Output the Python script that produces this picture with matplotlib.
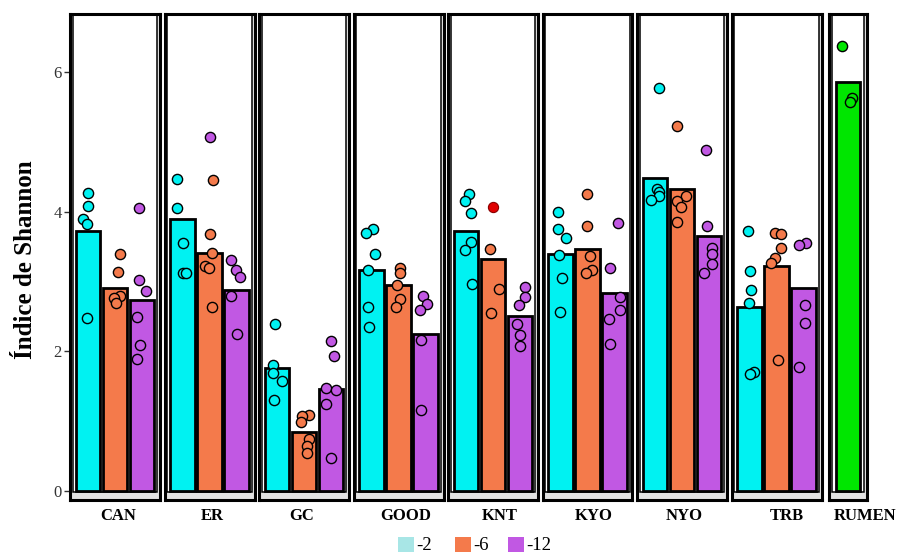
import matplotlib
matplotlib.use("Agg")
import matplotlib.pyplot as plt
from matplotlib.patches import Rectangle
import numpy as np

plt.rcParams['font.family'] = ['Liberation Serif', 'DejaVu Serif']

# ---- data -------------------------------------------------------------
sites = ["CAN", "ER", "GC", "GOOD", "KNT", "KYO", "NYO", "TRB"]
groups = ["-2", "-6", "-12"]

bar_m2 = [3.72, 3.89, 1.76, 3.16, 3.72, 3.40, 4.49, 2.63]
bar_m6 = [2.91, 3.41, 0.85, 2.95, 3.32, 3.46, 4.32, 3.22]
bar_m12 = [2.74, 2.88, 1.46, 2.25, 2.51, 2.83, 3.66, 2.91]

pts_m2 = [
    [4.27, 4.08, 3.90, 3.82, 2.48],
    [4.47, 4.05, 3.55, 3.13, 3.12],
    [2.39, 1.80, 1.69, 1.57, 1.31],
    [3.76, 3.70, 3.40, 3.17, 2.63, 2.35],
    [4.25, 4.16, 3.98, 3.57, 3.45, 2.97],
    [4.00, 3.76, 3.63, 3.38, 3.05, 2.57],
    [5.78, 4.32, 4.29, 4.22, 4.17],
    [3.73, 3.15, 2.88, 2.69, 1.71, 1.68],
]
jit_m2 = [
    [0.0, 0.0, -0.2, -0.05, -0.05],
    [-0.19, -0.21, 0.0, 0.0, 0.12],
    [-0.08, -0.13, -0.13, 0.17, -0.1],
    [0.07, -0.2, 0.14, -0.14, -0.14, -0.1],
    [0.1, -0.05, 0.2, 0.2, -0.03, 0.22],
    [-0.1, -0.1, 0.22, -0.06, 0.06, -0.03],
    [0.16, 0.08, 0.16, 0.14, -0.13],
    [-0.07, 0.0, 0.06, -0.03, 0.16, 0.03],
]

pts_m6 = [
    [3.39, 3.14, 2.80, 2.76, 2.69],
    [4.45, 3.68, 3.41, 3.22, 3.20, 2.63],
    [1.09, 1.07, 0.99, 0.75, 0.64, 0.55],
    [3.19, 3.12, 2.95, 2.75, 2.64],
    [3.46, 2.89, 2.55],
    [4.25, 3.80, 3.36, 3.16, 3.12],
    [5.23, 4.22, 4.16, 4.07, 3.86],
    [3.70, 3.68, 3.48, 3.34, 3.27, 1.88],
]
jit_m6 = [
    [0.17, 0.1, 0.17, -0.02, 0.04],
    [0.12, 0.0, 0.1, -0.15, -0.03, 0.1],
    [0.19, -0.06, -0.12, 0.19, 0.12, 0.12],
    [0.04, 0.04, -0.05, 0.04, -0.09],
    [-0.12, 0.21, -0.07],
    [0.0, 0.0, 0.09, 0.16, -0.06],
    [-0.17, 0.13, -0.17, -0.04, -0.17],
    [-0.06, 0.15, 0.15, -0.06, -0.19, 0.06],
]

pts_m12 = [
    [4.05, 3.02, 2.86, 2.50, 2.09, 1.89],
    [5.07, 3.31, 3.17, 3.06, 2.79, 2.25],
    [2.15, 1.94, 1.47, 1.45, 1.24, 0.47],
    [2.80, 2.68, 2.60, 2.16, 1.16],
    [2.92, 2.78, 2.67, 2.39, 2.23, 2.08],
    [3.84, 3.19, 2.78, 2.59, 2.46, 2.11],
    [4.89, 3.79, 3.48, 3.40, 3.25, 3.12],
    [3.56, 3.52, 2.66, 2.40, 1.77],
]
jit_m12 = [
    [-0.12, -0.1, 0.15, -0.19, -0.07, -0.19],
    [-0.99, -0.19, -0.03, 0.12, -0.19, 0.02],
    [0.0, 0.12, -0.18, 0.19, -0.18, 0.0],
    [-0.09, 0.06, -0.21, -0.15, -0.15],
    [0.2, 0.17, -0.02, -0.12, 0.0, 0.0],
    [0.12, -0.15, 0.19, 0.19, -0.19, -0.15],
    [-0.12, -0.09, 0.12, 0.12, 0.12, -0.19],
    [0.09, -0.18, 0.07, 0.07, -0.16],
]

# highlighted sample in KNT, group -6
knt_flag_value = 4.07
knt_flag_jit = 0.0

rumen_bar = 5.86
rumen_pts = [6.38, 5.63, 5.58]
rumen_jit = [-0.22, 0.14, 0.08]

# ---- style ------------------------------------------------------------
bar_colors = ["#00f2f2", "#f47a4b", "#c158e3"]
legend_colors = ["#a8e6e6", "#f47a4b", "#c158e3"]
rumen_color = "#00e600"
flag_color = "#e00000"

W, H = 899, 552
fig = plt.figure(figsize=(W / 100, H / 100), dpi=100)
fig.patch.set_facecolor("white")


def fx(px):
    return px / W


def fy(py):
    return 1 - py / H


PX_PER_UNIT = 27.0
PX_PER_V = 69.8
panel_top, panel_bot = 14, 500
y_zero_px = 491
ylim = ((y_zero_px - panel_bot) / PX_PER_V, (y_zero_px - panel_top) / PX_PER_V)

panel_left = [70 + 94.5 * i for i in range(8)]
panel_w = 90
label_shift = [3, 3, -2.5, 7, 7, 6, 2.5, 10]


def make_panel(left, width, ncat):
    ax = fig.add_axes([fx(left), fy(panel_bot), width / W,
                       (panel_bot - panel_top) / H])
    half = width / 2 / PX_PER_UNIT
    mid = (ncat + 1) / 2
    ax.set_xlim(mid - half, mid + half)
    ax.set_ylim(*ylim)
    ax.set_facecolor("#e2e2e2")
    for s in ax.spines.values():
        s.set_linewidth(2.2)
        s.set_color("black")
    x0, x1 = ax.get_xlim()
    ins_x = 2.8 / PX_PER_UNIT
    ax.add_patch(Rectangle((x0 + ins_x, -0.012), (x1 - x0) - 2 * ins_x,
                           ylim[1] + 0.012,
                           facecolor="white", edgecolor="black",
                           linewidth=1.1, zorder=0.5))
    ax.set_xticks([])
    ax.set_yticks([])
    return ax


def draw_points(ax, x, vals, jits, color, edge="black"):
    xs = x + np.asarray(jits)
    ax.scatter(xs, vals, s=54, c=color, edgecolors=edge, linewidths=1.0,
               zorder=3)


bars = [bar_m2, bar_m6, bar_m12]
pts = [pts_m2, pts_m6, pts_m12]
jits = [jit_m2, jit_m6, jit_m12]

axes = []
for i, site in enumerate(sites):
    ax = make_panel(panel_left[i], panel_w, 3)
    axes.append(ax)
    xpos = np.arange(1, 4)
    heights = [bars[g][i] for g in range(3)]
    ax.bar(xpos, heights, width=0.9, color=bar_colors, edgecolor="black",
           linewidth=2.0, zorder=2)
    for g in range(3):
        draw_points(ax, xpos[g], pts[g][i], jits[g][i], bar_colors[g])
    if site == "KNT":
        ax.scatter([2 + knt_flag_jit], [knt_flag_value], s=54, c=flag_color,
                   edgecolors="#8a0000", linewidths=0.8, zorder=3)
    fig.text(fx(panel_left[i] + panel_w / 2 + label_shift[i]), fy(516), site,
             ha="center", va="center", fontsize=12, fontweight="bold")

# RUMEN panel with a single bar
rumen_left, rumen_w = 829, 38
axr = make_panel(rumen_left, rumen_w, 1)
axr.bar([1], [rumen_bar], width=0.9, color=rumen_color, edgecolor="black",
        linewidth=2.0, zorder=2)
draw_points(axr, 1, rumen_pts, rumen_jit, rumen_color)
fig.text(fx(rumen_left + rumen_w / 2 + 17), fy(516), "RUMEN",
         ha="center", va="center", fontsize=12, fontweight="bold")

# y axis on the first panel
ax0 = axes[0]
ax0.set_yticks([0, 2, 4, 6])
ax0.set_yticklabels(["0", "2", "4", "6"])
ax0.tick_params(axis="y", length=4, width=1.0, color="#333333",
                labelcolor="#333333", labelsize=12, pad=2)
fig.text(fx(26), fy(260), "Índice de Shannon", rotation=90, ha="center",
         va="center", fontsize=18, fontweight="bold")

# legend along the bottom edge
leg_sq = [398, 455, 508]
for x, col, lab in zip(leg_sq, legend_colors, groups):
    fig.patches.append(Rectangle((fx(x), fy(553)), 16 / W, 16 / H,
                                 transform=fig.transFigure, facecolor=col,
                                 edgecolor="none"))
    fig.text(fx(x + 18), fy(545), lab, ha="left", va="center", fontsize=13.5)

fig.savefig("out.png", dpi=100)
